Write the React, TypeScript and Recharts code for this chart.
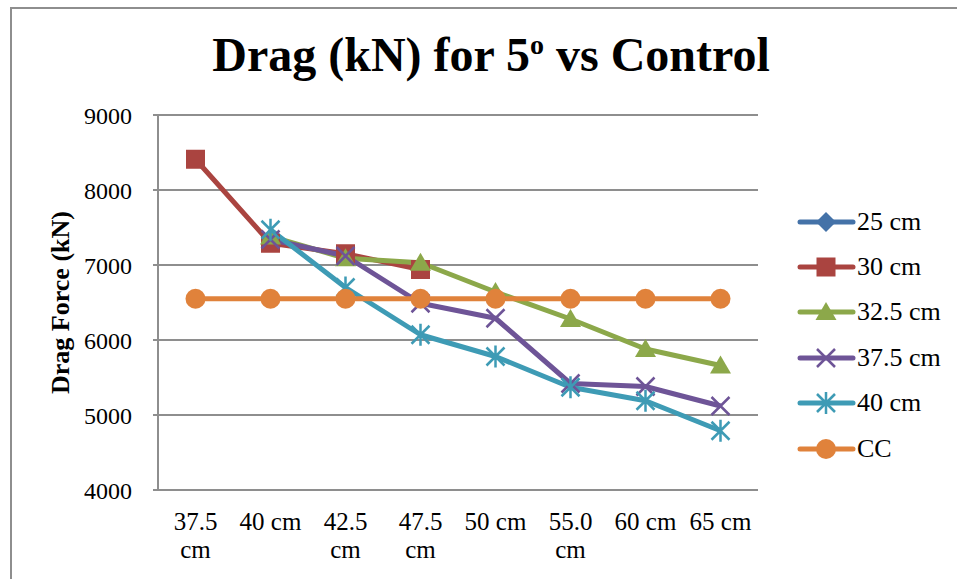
import React from 'react';
import { LineChart, Line, XAxis, YAxis, CartesianGrid, Legend } from 'recharts';

const categories = ['37.5 cm', '40 cm', '42.5 cm', '47.5 cm', '50 cm', '55.0 cm', '60 cm', '65 cm'];

const drag25: (number | null)[] = [null, null, null, null, null, null, null, null];
const drag30: (number | null)[] = [8410, 7290, 7150, 6940, null, null, null, null];
const drag325: (number | null)[] = [null, 7380, 7090, 7030, 6640, 6280, 5880, 5660];
const drag375: (number | null)[] = [null, 7340, 7120, 6490, 6290, 5420, 5380, 5120];
const drag40: (number | null)[] = [null, 7470, 6700, 6070, 5780, 5370, 5190, 4790];
const control: (number | null)[] = [6550, 6550, 6550, 6550, 6550, 6550, 6550, 6550];

const yTicks = [4000, 5000, 6000, 7000, 8000, 9000];

type MarkerKind = 'diamond' | 'square' | 'triangle' | 'cross' | 'star' | 'circle';

const series: { key: string; name: string; color: string; marker: MarkerKind; values: (number | null)[] }[] = [
  { key: 'd25', name: '25 cm', color: '#4472A8', marker: 'diamond', values: drag25 },
  { key: 'd30', name: '30 cm', color: '#AA4440', marker: 'square', values: drag30 },
  { key: 'd325', name: '32.5 cm', color: '#8CA84A', marker: 'triangle', values: drag325 },
  { key: 'd375', name: '37.5 cm', color: '#6E5497', marker: 'cross', values: drag375 },
  { key: 'd40', name: '40 cm', color: '#3E9BB5', marker: 'star', values: drag40 },
  { key: 'cc', name: 'CC', color: '#E0823B', marker: 'circle', values: control },
];

const data = categories.map((cat, i) => {
  const row: Record<string, string | number | null> = { cat };
  series.forEach(s => {
    row[s.key] = s.values[i];
  });
  return row;
});

const SERIF = '"Liberation Serif", "Times New Roman", serif';
const GRID = '#8E8E8E';

const Marker = ({ kind, cx, cy, color }: { kind: MarkerKind; cx: number; cy: number; color: string }) => {
  switch (kind) {
    case 'diamond':
      return <path d={`M${cx} ${cy - 10}L${cx + 10} ${cy}L${cx} ${cy + 10}L${cx - 10} ${cy}Z`} fill={color} />;
    case 'square':
      return <rect x={cx - 9.5} y={cy - 9.5} width={19} height={19} fill={color} />;
    case 'triangle':
      return <path d={`M${cx} ${cy - 10}L${cx + 10.5} ${cy + 8}L${cx - 10.5} ${cy + 8}Z`} fill={color} />;
    case 'cross':
      return (
        <path
          d={`M${cx - 9} ${cy - 9}L${cx + 9} ${cy + 9}M${cx + 9} ${cy - 9}L${cx - 9} ${cy + 9}`}
          stroke={color}
          strokeWidth={2.5}
          fill="none"
        />
      );
    case 'star':
      return (
        <path
          d={`M${cx - 9} ${cy - 9}L${cx + 9} ${cy + 9}M${cx + 9} ${cy - 9}L${cx - 9} ${cy + 9}M${cx} ${cy - 11}L${cx} ${cy + 11}`}
          stroke={color}
          strokeWidth={2.5}
          fill="none"
        />
      );
    default:
      return <circle cx={cx} cy={cy} r={10} fill={color} />;
  }
};

const makeDot = (kind: MarkerKind, color: string) => (props: any) => {
  const { cx, cy, index } = props;
  if (cx == null || cy == null || Number.isNaN(cy)) return <g key={`e-${index}`} />;
  return (
    <g key={`m-${index}`}>
      <Marker kind={kind} cx={cx} cy={cy} color={color} />
    </g>
  );
};

// labels longer than a category slot break at the space
const wrapLabel = (label: string) => (label.length > 5 ? label.split(' ') : [label]);

const CategoryTick = (props: any) => {
  const { x, y, payload } = props;
  const lines = wrapLabel(String(payload.value));
  return (
    <text x={x} y={y} textAnchor="middle" fill="#000" fontFamily={SERIF} fontSize={25}>
      {lines.map((line, i) => (
        <tspan key={i} x={x} y={y + 40 + i * 28}>
          {line}
        </tspan>
      ))}
    </text>
  );
};

const LegendList = () => (
  <div style={{ fontFamily: SERIF, fontSize: 26, color: '#000' }}>
    {series.map(s => (
      <div key={s.key} style={{ display: 'flex', alignItems: 'center', height: 45.4 }}>
        <svg width={60} height={30} style={{ display: 'block' }}>
          <line x1={3} y1={15} x2={56} y2={15} stroke={s.color} strokeWidth={5} strokeLinecap="round" />
          <Marker kind={s.marker} cx={29} cy={15} color={s.color} />
        </svg>
        <span style={{ lineHeight: 1 }}>{s.name}</span>
      </div>
    ))}
  </div>
);

export default function App() {
  return (
    <div
      style={{
        position: 'absolute',
        left: 0,
        top: 0,
        width: 957,
        height: 579,
        background: '#fff',
        overflow: 'hidden',
        fontFamily: SERIF,
      }}
    >
      <div
        style={{
          position: 'absolute',
          left: 10,
          top: 7,
          width: 960,
          height: 600,
          borderLeft: `2px solid ${GRID}`,
          borderTop: `2px solid ${GRID}`,
        }}
      />
      <div
        style={{
          position: 'absolute',
          left: 0,
          top: 31,
          width: 982,
          textAlign: 'center',
          fontWeight: 'bold',
          fontSize: 48,
          lineHeight: '48px',
          color: '#000',
        }}
      >
        Drag (kN) for 5<sup style={{ fontSize: 28, verticalAlign: 'top', lineHeight: '28px' }}>o</sup> vs Control
      </div>
      <div style={{ position: 'absolute', left: 0, top: 0 }}>
        <LineChart width={957} height={579} data={data} margin={{ top: 115, right: 49, bottom: 29, left: 0 }}>
          <CartesianGrid vertical={false} stroke={GRID} strokeWidth={2} />
          <XAxis
            dataKey="cat"
            type="category"
            padding={{ left: 37.5, right: 37.5 }}
            height={60}
            axisLine={{ stroke: GRID, strokeWidth: 2 }}
            tickLine={false}
            tickSize={0}
            tickMargin={0}
            interval={0}
            tick={<CategoryTick />}
          />
          <YAxis
            type="number"
            domain={[4000, 9000]}
            ticks={yTicks}
            width={158}
            axisLine={{ stroke: GRID, strokeWidth: 2 }}
            tickLine={{ stroke: GRID, strokeWidth: 2 }}
            tickSize={5}
            tickMargin={21}
            tick={{ fill: '#000', fontSize: 24, fontFamily: SERIF }}
            label={{
              value: 'Drag Force (kN)',
              angle: -90,
              position: 'insideLeft',
              offset: 60,
              style: { textAnchor: 'middle', fontFamily: SERIF, fontWeight: 'bold', fontSize: 26, fill: '#000' },
            }}
          />
          <Legend
            layout="vertical"
            align="right"
            verticalAlign="middle"
            wrapperStyle={{ width: 150, left: 797, top: 199 }}
            content={<LegendList />}
          />
          {series.map(s => (
            <Line
              key={s.key}
              type="linear"
              dataKey={s.key}
              name={s.name}
              stroke={s.color}
              strokeWidth={5}
              strokeLinejoin="round"
              dot={makeDot(s.marker, s.color)}
              activeDot={false}
              isAnimationActive={false}
            />
          ))}
        </LineChart>
      </div>
    </div>
  );
}
